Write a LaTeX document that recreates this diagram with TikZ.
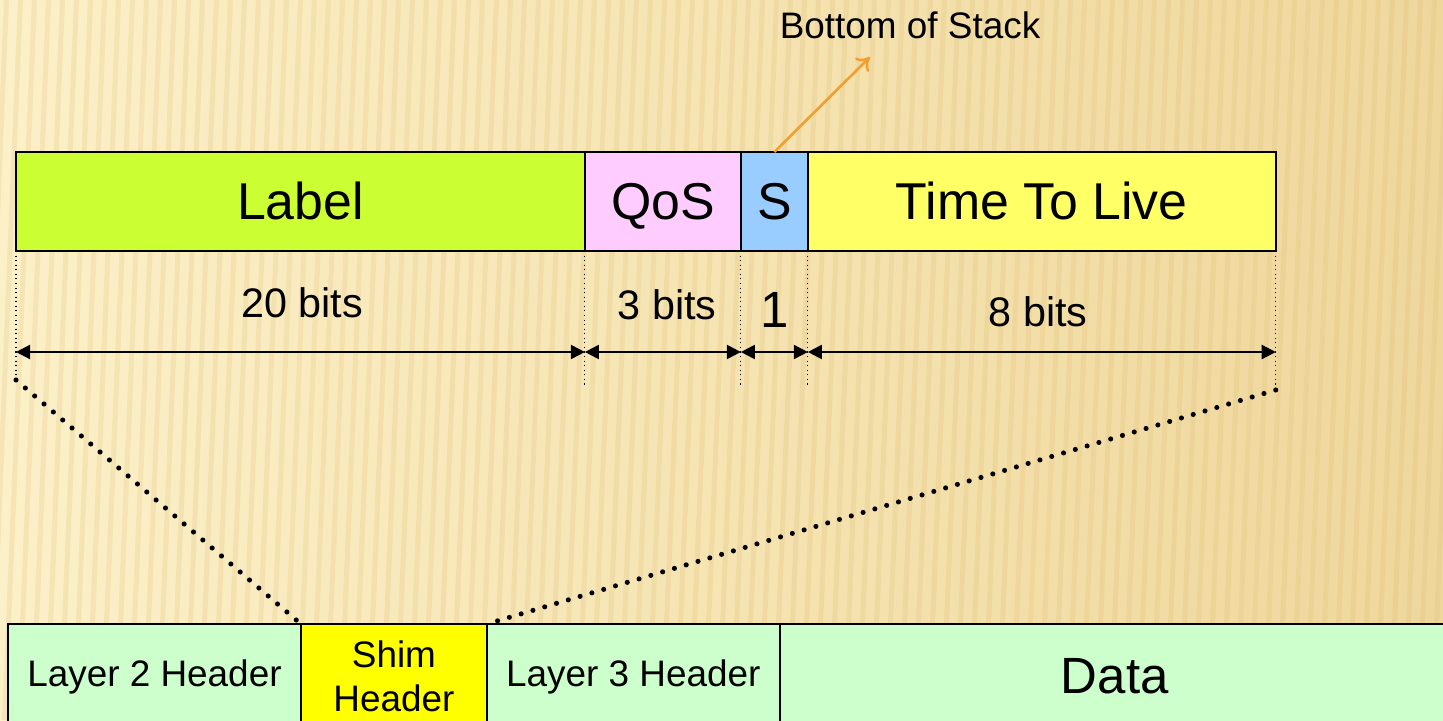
\documentclass[tikz,border=0pt]{standalone}
\usepackage{fontspec}
\setmainfont{Liberation Sans}
\usetikzlibrary{positioning,arrows.meta}
\definecolor{bgleft}{HTML}{FCF0C8}
\definecolor{bgright}{HTML}{EFD79C}
\definecolor{stripe}{HTML}{D8B566}
\definecolor{labelgreen}{HTML}{CCFF33}
\definecolor{qospink}{HTML}{FFCCFF}
\definecolor{sblue}{HTML}{99CCFF}
\definecolor{ttlyellow}{HTML}{FFFF66}
\definecolor{pktgreen}{HTML}{CCFFCC}
\definecolor{shimyellow}{HTML}{FFFF00}
\definecolor{bosorange}{HTML}{F0A030}
\tikzset{
  field/.style={draw=black, line width=1pt, minimum height=1.98cm, inner sep=0pt, outer sep=0pt, text height=21pt, text depth=0pt, font=\fontsize{29.5}{35}\selectfont},
  pkt/.style={draw=black, line width=1pt, minimum height=2.1cm, inner sep=0pt, outer sep=0pt, fill=pktgreen, font=\fontsize{21}{25}\selectfont},
  span/.style={{Triangle[length=8pt,width=8pt]}-{Triangle[length=8pt,width=8pt]}, line width=1.2pt},
  guide/.style={dotted, line width=0.6pt},
  zoomline/.style={line width=2.9pt, dash pattern=on 0pt off 7pt, line cap=round},
  bits/.style={font=\fontsize{23.5}{28}\selectfont},
}
\begin{document}
\begin{tikzpicture}[x=0.02cm,y=-0.02cm]
    \clip (0,0) rectangle (1443,720);
    \shade[left color=bgleft, right color=bgright] (0,0) rectangle (1443,720);
    \foreach \x in {-40,-26,...,1460} \fill[stripe,opacity=0.18] (\x,720) -- ++(5,0) -- ++(30,-720) -- ++(-5,0) -- cycle;
    % MPLS shim fields
    \node[field, fill=labelgreen, minimum width=11.38cm, anchor=north west] (label) at (16,152) {Label};
    \node[field, fill=qospink, minimum width=3.12cm, right=0pt of label] (qos) {QoS};
    \node[field, fill=sblue, minimum width=1.34cm, right=0pt of qos] (s) {S};
    \node[field, fill=ttlyellow, minimum width=9.36cm, right=0pt of s] (ttl) {Time To Live};
    \node[font=\fontsize{21}{25}\selectfont] (bos) at (910,25) {Bottom of Stack};
    \coordinate (bostip) at (870,57);
    \draw[bosorange, line width=1.5pt, -{To[length=7pt,width=11pt]}] (s.north) -- (bostip);
    % widths
    \draw[guide] (label.south west) -- ++(0,129) coordinate (gl);
    \draw[guide] (label.south east) -- ++(0,134);
    \draw[guide] (s.south west) -- ++(0,137);
    \draw[guide] (s.south east) -- ++(0,137);
    \draw[guide] (ttl.south east) -- ++(0,139) coordinate (gr);
    \coordinate (spany) at (0,352);
    \draw[span] (label.south west |- spany) -- (label.south east |- spany);
    \draw[span] (qos.south west |- spany) -- (qos.south east |- spany);
    \draw[span] (s.south west |- spany) -- (s.south east |- spany);
    \draw[span] (ttl.south west |- spany) -- (ttl.south east |- spany);
    \node[bits] (w20) at (302,303) {20 bits};
    \node[bits] (w3) at (667,305) {3 bits};
    \node[font=\fontsize{29}{32}\selectfont] (w1) at (775,310) {1};
    \node[bits] (w8) at (1038,312) {8 bits};
    % packet
    \node[pkt, minimum width=5.86cm, anchor=north west] (l2) at (8,624) {Layer 2 Header};
    \node[pkt, fill=shimyellow, minimum width=3.72cm, right=0pt of l2, align=center] (shim) {Shim\\Header};
    \node[pkt, minimum width=5.86cm, right=0pt of shim] (l3) {Layer 3 Header};
    \node[pkt, minimum width=13.4cm, right=0pt of l3, font=\fontsize{29}{35}\selectfont] (data) {Data};
    \draw[zoomline] (gl) -- (shim.north west);
    \draw[zoomline] (gr) -- (shim.north east);
\end{tikzpicture}
\end{document}
